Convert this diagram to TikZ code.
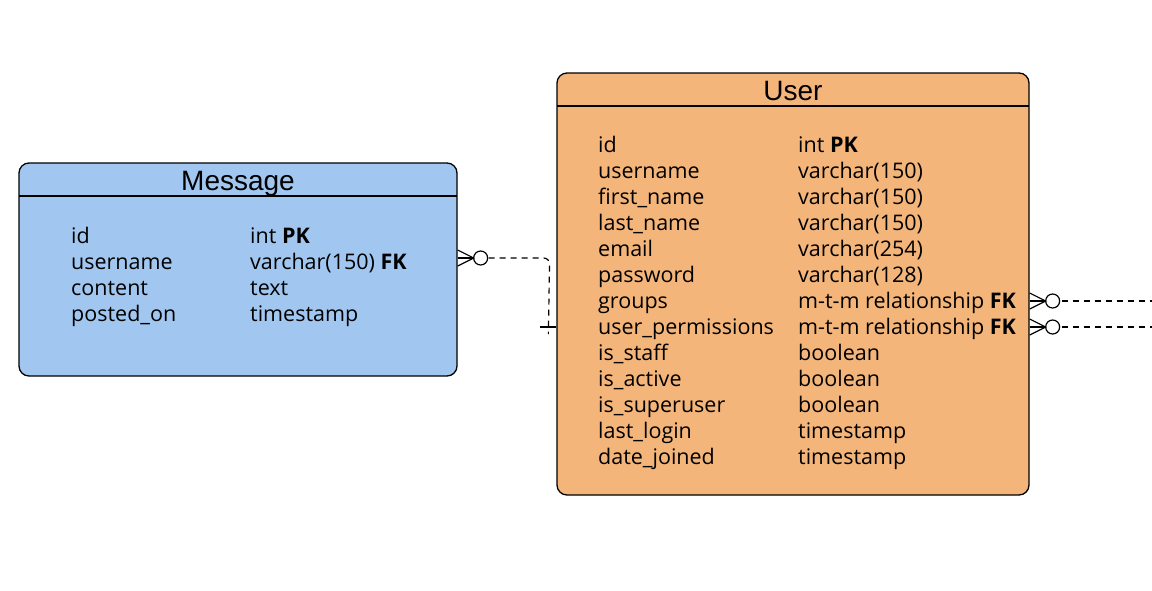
\documentclass[tikz,border=0pt]{standalone}
\usepackage{fontspec}
\setmainfont{Open Sans}
\newfontfamily\headfont{Liberation Sans}
\usetikzlibrary{calc}
\definecolor{msgblue}{HTML}{A1C7F0}
\definecolor{userorange}{HTML}{F3B57A}
\tikzset{
  entity/.style={draw=black, line width=1.3pt, rounded corners=10pt, inner sep=0pt},
  sep/.style={line width=1.1pt},
  title/.style={font=\headfont\fontsize{28}{30}\selectfont, anchor=base, inner sep=0pt},
  field/.style={font=\fontsize{21.5}{26}\selectfont, anchor=base west, inner sep=0pt},
  rel/.style={line width=1.2pt, dash pattern=on 6pt off 5pt},
  marker/.style={line width=1.2pt},
  manyopt/.pic={
    \draw[marker] (0,-8) -- (16,0) -- (0,8);
    \draw[marker] (0,0) -- (16,0);
    \draw[marker] (23,0) circle (7);
  }
}
\begin{document}
\begin{tikzpicture}[x=1pt,y=-1pt]
\useasboundingbox (0,0) rectangle (1152,590);

% Message entity
\node[entity, fill=msgblue, minimum width=438pt, minimum height=213pt] (msg) at (238,269.5) {};
\draw[sep] (19,196) -- (457,196);
\node[title] (msgt) at (238,190) {Message};
\foreach \i/\a/\b in {0/id/{int \textbf{PK}},1/username/{varchar(150) \textbf{FK}},2/content/text,3/posted\_on/timestamp}{
  \node[field] (mf\i) at (71,243.5+26*\i) {\a};
  \node[field] (mt\i) at (250,243.5+26*\i) {\b};
}

% User entity
\node[entity, fill=userorange, minimum width=472pt, minimum height=422pt] (user) at (793,284) {};
\draw[sep] (557,106) -- (1029,106);
\node[title] (usert) at (793,100) {User};
\foreach \i/\a/\b in {
  0/id/{int \textbf{PK}},
  1/username/varchar(150),
  2/first\_name/varchar(150),
  3/last\_name/varchar(150),
  4/email/varchar(254),
  5/password/varchar(128),
  6/groups/{m-t-m relationship \textbf{FK}},
  7/user\_permissions/{m-t-m relationship \textbf{FK}},
  8/is\_staff/boolean,
  9/is\_active/boolean,
  10/is\_superuser/boolean,
  11/last\_login/timestamp,
  12/date\_joined/timestamp}{
  \node[field] (uf\i) at (598,152.5+26*\i) {\a};
  \node[field] (ut\i) at (798,152.5+26*\i) {\b};
}

% Message -> User relation
\coordinate (mA) at ($(msg.east)+(0,-11.5)$);
\coordinate (uA) at ($(user.west)+(0,43)$);
\pic at (mA) {manyopt};
\draw[rel, rounded corners=6pt] ($(mA)+(31,0)$) -- ($(mA)+(92,0)$) -- ($(uA)+(-8,7)$);
\draw[marker] ($(uA)+(-16,0)$) -- (uA);

% User outgoing relations
\coordinate (uB) at ($(user.east)+(0,17)$);
\coordinate (uC) at ($(user.east)+(0,43)$);
\coordinate (fB) at (1152,301);
\coordinate (fC) at (1152,327);
\pic at (uB) {manyopt};
\pic at (uC) {manyopt};
\draw[rel] ($(uB)+(32,0)$) -- (fB);
\draw[rel] ($(uC)+(32,0)$) -- (fC);
\end{tikzpicture}
\end{document}
